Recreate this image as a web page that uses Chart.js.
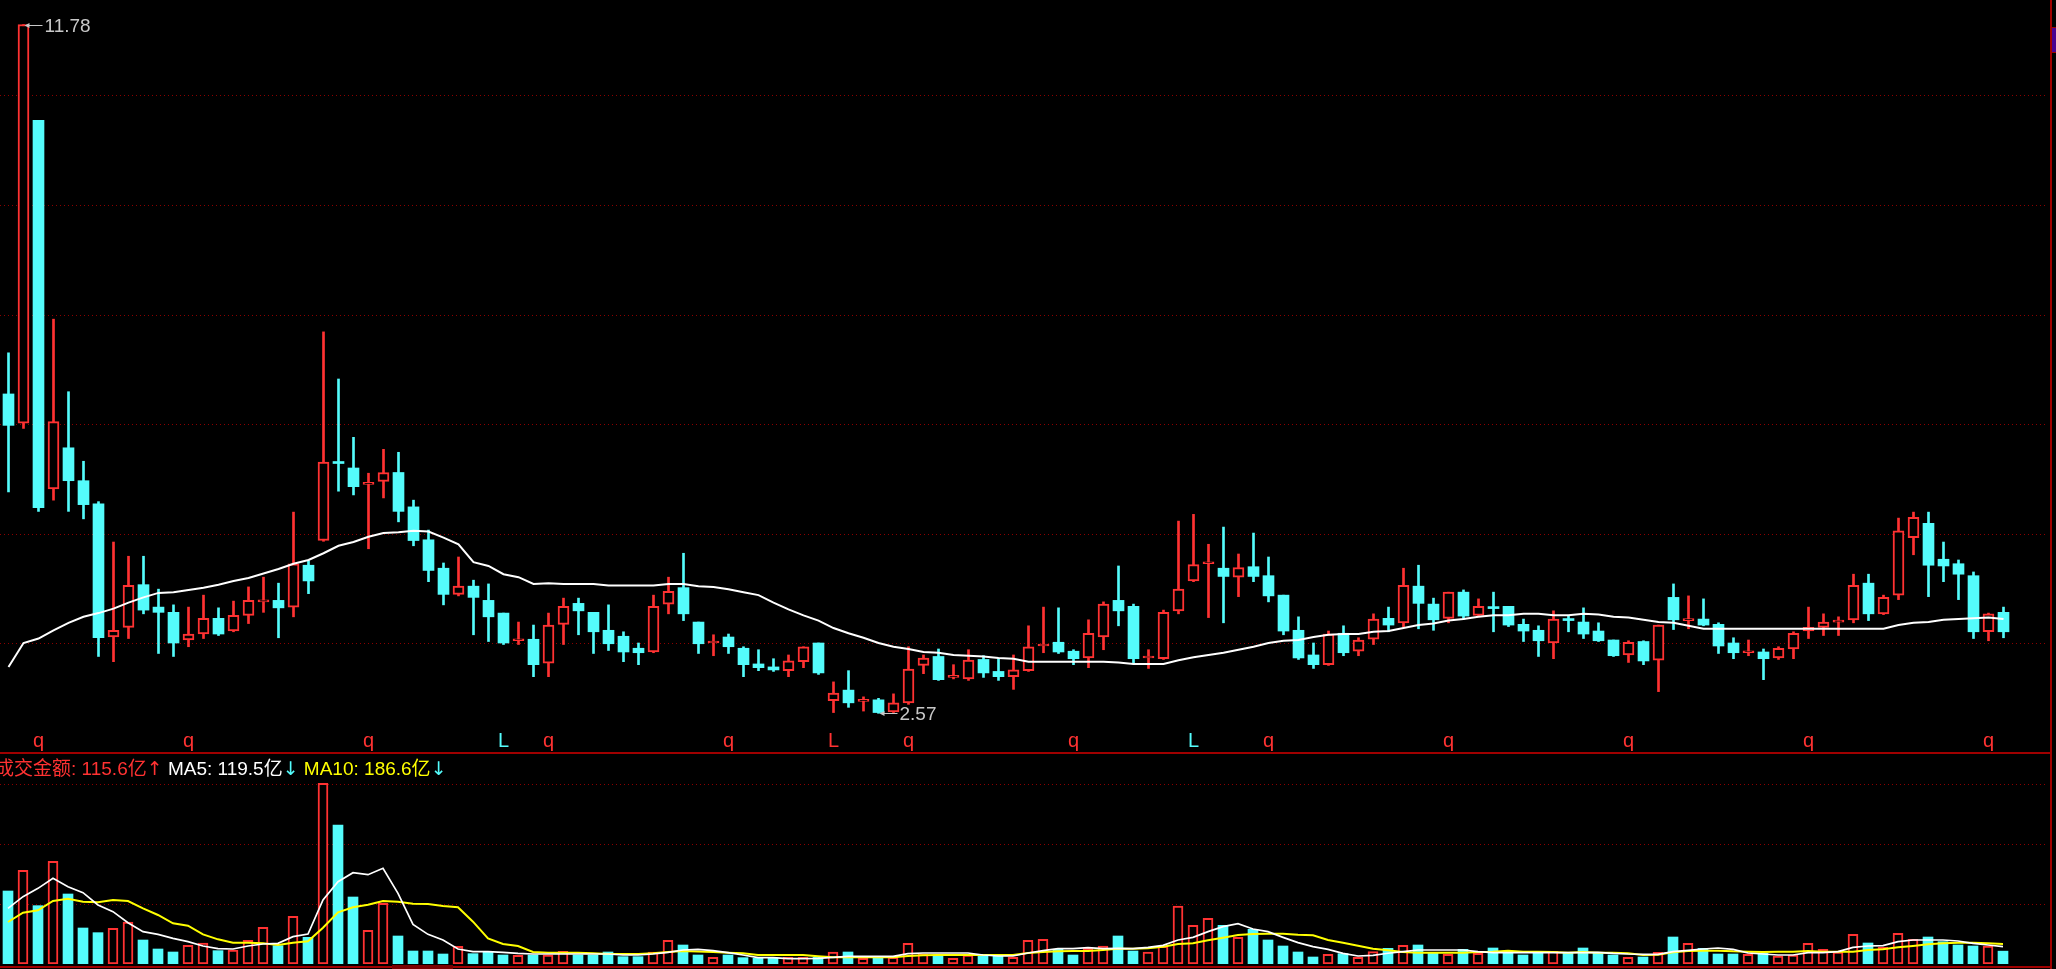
<!DOCTYPE html>
<html><head><meta charset="utf-8">
<script src="https://cdn.jsdelivr.net/npm/chart.js@4.4.1/dist/chart.umd.min.js"></script>
<style>
html,body{margin:0;padding:0;background:#000;overflow:hidden;width:2056px;height:969px;}
#wrap{position:relative;width:2056px;height:969px;background:#000;overflow:hidden;}
canvas{position:absolute;left:0;display:block;}
.deco{position:absolute;}
#vlabel{position:absolute;left:-5px;top:758px;height:20px;line-height:20px;font-size:19px;font-family:"Liberation Sans","Noto Sans CJK SC",sans-serif;white-space:nowrap;}
#vlabel .ar{font-family:"DejaVu Sans","Noto Sans CJK SC",sans-serif;}
</style></head>
<body><div id="wrap">
<canvas id="price" width="2056" height="753" style="top:0;width:2056px;height:753px"></canvas>
<canvas id="vol" width="2056" height="216" style="top:753px;width:2056px;height:216px"></canvas>
<div class="deco" style="left:0;top:752px;width:2052px;height:2px;background:#a00000"></div>
<div class="deco" style="left:2050px;top:0;width:2px;height:969px;background:#a00000"></div>
<div class="deco" style="left:2052px;top:27px;width:4px;height:24px;background:#4a0090;border-top:1px solid #a00000;border-bottom:1px solid #a00000"></div>
<div class="deco" style="left:0;top:966px;width:2052px;height:2px;background:#a00000"></div>
<div class="deco" style="left:392px;top:965px;width:61px;height:4px;background:#7a0000"></div>
<div id="vlabel"></div>
</div>
<script>
// ---- data ----
const opens = [6.84,6.45,10.50,5.57,6.12,5.68,5.37,3.59,3.72,4.29, 3.99,3.92,3.55,3.63,3.84,3.67,3.88,4.06,4.08,3.99, 4.55,4.88,5.92,5.85,5.63,5.67,5.79,5.33,4.89,4.51, 4.16,4.27,4.08,3.91,3.54,3.56,3.24,3.76,4.04,3.92, 3.68,3.60,3.44,3.39,4.03,4.25,3.79,3.51,3.59,3.44, 3.23,3.19,3.14,3.26,3.51,2.74,2.88,2.73,2.75,2.59, 2.71,3.21,3.33,3.05,3.03,3.29,3.13,3.06,3.14,3.47, 3.52,3.40,3.31,3.59,4.08,4.00,3.31,3.30,3.94,4.34, 4.57,4.51,4.39,4.53,4.41,4.15,3.68,3.35,3.22,3.64, 3.40,3.56,3.84,3.78,4.27,4.03,3.84,4.19,3.88,3.98, 4.00,3.76,3.68,3.51,3.82,3.79,3.67,3.55,3.35,3.53, 3.28,4.12,3.81,3.83,3.76,3.51,3.38,3.39,3.31,3.43, 3.67,3.72,3.79,3.82,4.31,3.90,4.15,4.92,5.11,4.63, 4.57,4.41,3.66,3.92];
const highs = [7.39,11.78,10.50,7.84,6.87,5.94,5.40,4.86,4.67,4.67, 4.23,4.02,3.99,4.15,3.98,4.07,4.26,4.39,4.31,5.26, 4.61,7.67,7.04,6.26,5.78,6.10,6.06,5.42,5.02,4.58, 4.66,4.35,4.30,3.91,3.79,3.75,3.91,4.11,4.11,3.92, 4.02,3.66,3.51,4.15,4.39,4.71,3.79,3.62,3.63,3.46, 3.42,3.30,3.35,3.46,3.51,2.99,3.14,2.79,2.77,2.83, 3.46,3.35,3.43,3.22,3.42,3.34,3.30,3.35,3.74,3.99, 3.98,3.42,3.82,4.06,4.54,4.03,3.42,3.95,5.14,5.23, 4.83,5.06,4.70,4.98,4.66,4.15,3.86,3.51,3.67,3.74, 3.58,3.90,3.99,4.51,4.55,4.11,4.19,4.22,4.10,4.19, 4.00,3.83,3.74,3.94,3.87,3.98,3.78,3.55,3.54,3.54, 3.75,4.30,4.14,4.10,3.78,3.58,3.55,3.43,3.46,3.66, 3.99,3.90,3.86,4.43,4.43,4.15,5.18,5.26,5.26,4.86, 4.62,4.46,3.91,3.99];
const lows = [5.53,6.38,5.27,5.42,5.27,5.17,3.33,3.26,3.57,3.90, 3.37,3.33,3.46,3.57,3.61,3.66,3.77,3.92,3.58,3.86, 4.17,4.87,5.54,5.49,4.77,5.45,5.13,4.81,4.33,4.02, 4.14,3.62,3.53,3.49,3.49,3.06,3.06,3.49,3.62,3.37, 3.41,3.26,3.22,3.38,3.90,3.81,3.37,3.34,3.37,3.06, 3.14,3.13,3.06,3.18,3.09,2.58,2.65,2.60,2.57,2.58, 2.69,3.10,3.01,3.03,3.01,3.05,3.01,2.89,3.13,3.38, 3.37,3.22,3.18,3.42,3.74,3.23,3.17,3.29,3.90,4.33, 3.85,3.78,4.13,4.33,4.06,3.62,3.29,3.17,3.21,3.34, 3.34,3.49,3.66,3.72,3.70,3.68,3.78,3.83,3.86,3.66, 3.73,3.53,3.33,3.30,3.66,3.57,3.53,3.33,3.25,3.22, 2.86,3.69,3.70,3.74,3.37,3.30,3.34,3.02,3.29,3.30, 3.57,3.61,3.61,3.78,3.81,3.89,4.09,4.69,4.13,4.33, 4.09,3.57,3.54,3.58];
const closes = [6.42,11.78,5.32,6.47,5.68,5.36,3.58,3.68,4.28,3.95, 3.92,3.51,3.63,3.84,3.63,3.88,4.08,4.08,3.98,4.57, 4.34,5.93,5.91,5.60,5.64,5.79,5.27,4.88,4.48,4.16, 4.27,4.12,3.86,3.51,3.55,3.22,3.75,4.00,3.94,3.66, 3.50,3.39,3.38,4.00,4.20,3.90,3.50,3.52,3.46,3.22, 3.18,3.15,3.27,3.46,3.11,2.84,2.71,2.74,2.58,2.71, 3.16,3.31,3.02,3.06,3.28,3.11,3.06,3.15,3.46,3.48, 3.39,3.30,3.64,4.03,3.94,3.30,3.32,3.92,4.23,4.56, 4.58,4.40,4.52,4.40,4.14,3.67,3.31,3.22,3.63,3.38, 3.55,3.83,3.75,4.28,4.04,3.82,4.19,3.87,4.00,3.97, 3.75,3.67,3.54,3.83,3.81,3.63,3.54,3.34,3.52,3.27, 3.75,3.82,3.82,3.75,3.47,3.38,3.39,3.30,3.44,3.64, 3.72,3.79,3.80,4.28,3.90,4.12,5.01,5.19,4.55,4.54, 4.43,3.66,3.90,3.66];
const priceMA = [3.19,3.51,3.57,3.68,3.78,3.86,3.91,3.97,4.05,4.12, 4.18,4.19,4.22,4.25,4.29,4.34,4.38,4.44,4.50,4.57, 4.62,4.71,4.81,4.86,4.93,4.98,4.99,5.01,5.00,4.92, 4.83,4.59,4.54,4.43,4.39,4.30,4.31,4.30,4.30,4.30, 4.28,4.28,4.28,4.28,4.30,4.30,4.27,4.26,4.23,4.19, 4.15,4.05,3.96,3.88,3.81,3.71,3.64,3.58,3.51,3.46, 3.43,3.39,3.38,3.35,3.34,3.33,3.31,3.30,3.26,3.26, 3.26,3.26,3.26,3.26,3.25,3.23,3.23,3.23,3.28,3.32, 3.35,3.38,3.42,3.46,3.51,3.54,3.55,3.59,3.62,3.63, 3.63,3.66,3.67,3.71,3.75,3.77,3.81,3.83,3.86,3.88, 3.88,3.90,3.90,3.88,3.88,3.90,3.89,3.86,3.85,3.82, 3.79,3.78,3.74,3.70,3.70,3.70,3.70,3.70,3.70,3.70, 3.70,3.70,3.70,3.70,3.70,3.70,3.75,3.78,3.79,3.82, 3.83,3.84,3.85,3.83];
// turnover, 亿
const turnover = [657,843,525,924,630,324,282,321,378,216, 135,108,168,189,120,126,213,330,165,429, 240,1626,1251,603,303,546,252,117,117,90, 159,93,108,81,78,81,81,114,81,81, 108,66,66,108,213,171,81,60,81,57, 51,51,60,60,60,108,108,51,60,60, 186,90,81,51,81,81,81,60,213,222, 132,81,141,162,252,117,108,159,522,348, 411,348,240,312,216,162,108,63,87,93, 60,111,141,168,171,96,87,132,96,144, 108,81,96,114,96,144,96,81,60,63, 105,243,186,141,90,90,87,96,72,81, 186,132,108,267,189,150,276,222,243,201, 171,162,162,115.6];
const turnoverMA5 = [501,606,681,771,696,642,531,471,372,291, 267,231,201,162,138,135,162,180,186,246, 270,576,741,822,804,861,636,357,267,216, 135,111,111,105,96,90,90,90,90,90, 90,81,81,90,105,126,132,120,102,81, 57,57,48,48,51,60,69,69,69,69, 93,99,99,99,99,81,72,72,99,120, 138,138,147,138,141,138,150,168,216,240, 291,336,363,315,291,240,192,156,132,96, 72,78,97,111,126,126,126,126,111,102, 102,102,102,102,102,102,105,96,90,87, 87,111,123,135,144,132,99,90,81,81, 102,102,111,150,162,165,201,216,216,216, 207,186,171,156];
const turnoverMA10 = [378,462,483,567,588,561,555,576,567,501, 441,366,345,267,222,192,192,186,171,192, 204,327,465,510,534,567,561,543,540,522, 510,381,231,180,162,108,102,102,102,96, 90,90,90,96,108,117,112,108,102,96, 81,81,81,81,69,60,60,60,60,60, 72,78,81,81,81,81,81,81,99,108, 114,117,117,126,138,138,141,156,180,186, 213,237,261,270,273,273,264,258,216,192, 165,137,123,108,102,102,102,102,108,111, 120,111,111,108,102,108,102,102,96,81, 84,105,117,120,120,114,111,108,111,111, 117,111,111,111,126,132,150,162,177,186, 192,192,186,180];
const priceGrid = [3.51,4.97,6.44,7.90,9.37,10.84];
const volumeGrid = [540,1080,1620];
const markerIdx  = [2,12,24,33,36,48,55,60,71,79,84,96,108,120,132];
const markerText = ['q','q','q','L','q','q','L','q','q','L','q','q','q','q','q'];
const markerUp   = [true,true,true,false,true,true,true,true,true,false,true,true,true,true,true];
const lastTurnover = 115.6, lastMA5 = 119.5, lastMA10 = 186.6;

// ---- styles ----
const RED = '#ff3232', CYAN = '#54fcfc', GRID = '#8c0000', TAG = '#c8c8c8';
const isUp = opens.map((o, i) => closes[i] >= o);

function gridPlugin(id, levels) {
  return {
    id,
    beforeDatasetsDraw(chart) {
      const {ctx, chartArea: a, scales: {y}} = chart;
      ctx.save();
      ctx.strokeStyle = GRID; ctx.lineWidth = 1; ctx.setLineDash([1, 3]);
      levels.forEach(v => {
        const py = Math.round(y.getPixelForValue(v)) + 0.5;
        ctx.beginPath(); ctx.moveTo(a.left, py); ctx.lineTo(a.right - 2, py); ctx.stroke();
      });
      ctx.restore();
    }
  };
}

const priceDecor = {
  id: 'priceDecor',
  afterDatasetsDraw(chart) {
    const {ctx, chartArea: a, scales: {x, y}} = chart;
    ctx.save();
    ctx.font = '20px "Liberation Sans", Arial, sans-serif';
    ctx.textAlign = 'center'; ctx.textBaseline = 'alphabetic';
    markerIdx.forEach((k, j) => {
      ctx.fillStyle = markerUp[j] ? RED : CYAN;
      ctx.fillText(markerText[j], x.getPixelForValue(k), a.bottom - 6);
    });
    let hi = 0, lo = 0;
    highs.forEach((v, i) => { if (v > highs[hi]) hi = i; });
    lows.forEach((v, i) => { if (v < lows[lo]) lo = i; });
    const tag = (i, v) => {
      const px = x.getPixelForValue(i), py = Math.round(y.getPixelForValue(v)) + 0.5;
      ctx.strokeStyle = TAG; ctx.fillStyle = TAG; ctx.lineWidth = 1;
      ctx.beginPath(); ctx.moveTo(px + 3, py); ctx.lineTo(px + 19, py); ctx.stroke();
      ctx.beginPath(); ctx.moveTo(px + 1, py); ctx.lineTo(px + 6, py - 2.5); ctx.lineTo(px + 6, py + 2.5); ctx.closePath(); ctx.fill();
      ctx.font = '19px "Liberation Sans", Arial, sans-serif';
      ctx.textAlign = 'left'; ctx.textBaseline = 'middle';
      ctx.fillText(v.toFixed(2), px + 21, py + 1);
    };
    tag(hi, highs[hi]);
    tag(lo, lows[lo]);
    ctx.restore();
  }
};

const common = {
  responsive: false, animation: false, devicePixelRatio: 1,
  plugins: {legend: {display: false}, tooltip: {enabled: false}}
};

new Chart(document.getElementById('price'), {
  type: 'bar',
  data: {datasets: [
    {type: 'bar', data: lows.map((l, i) => ({x: i, y: [l, highs[i]]})),
     backgroundColor: isUp.map(u => u ? RED : CYAN), borderWidth: 0,
     barThickness: 2, grouped: false, order: 2},
    {type: 'bar', data: opens.map((o, i) => ({x: i, y: [o, closes[i]]})),
     backgroundColor: isUp.map(u => u ? '#000000' : CYAN),
     borderColor: isUp.map(u => u ? RED : CYAN),
     borderWidth: isUp.map(u => u ? 2 : 0), borderSkipped: false,
     barThickness: 11, minBarLength: 2, grouped: false, order: 1},
    {type: 'line', data: priceMA.map((v, i) => ({x: i, y: v})),
     borderColor: '#ffffff', borderWidth: 2, pointRadius: 0, tension: 0, order: 0}
  ]},
  options: Object.assign({}, common, {
    layout: {padding: {left: 0, right: 6, top: 0, bottom: 0}},
    scales: {
      x: {type: 'linear', display: false, offset: false, min: -0.566667, max: 136.1},
      y: {type: 'linear', display: false, min: 2.0392, max: 12.1076}
    }
  }),
  plugins: [gridPlugin('priceGrid', priceGrid), priceDecor]
});

new Chart(document.getElementById('vol'), {
  type: 'bar',
  data: {datasets: [
    {type: 'bar', data: turnover.map((v, i) => ({x: i, y: v})),
     backgroundColor: isUp.map(u => u ? '#000000' : CYAN),
     borderColor: isUp.map(u => u ? RED : CYAN),
     borderWidth: isUp.map(u => u ? 2 : 0), borderSkipped: false,
     barThickness: 10, grouped: false, order: 2},
    {type: 'line', data: turnoverMA10.map((v, i) => ({x: i, y: v})),
     borderColor: '#ffff00', borderWidth: 2, pointRadius: 0, tension: 0, order: 1},
    {type: 'line', data: turnoverMA5.map((v, i) => ({x: i, y: v})),
     borderColor: '#ffffff', borderWidth: 1.7, pointRadius: 0, tension: 0, order: 0}
  ]},
  options: Object.assign({}, common, {
    layout: {padding: {left: 0, right: 6, top: 0, bottom: 5}},
    scales: {
      x: {type: 'linear', display: false, offset: false, min: -0.533333, max: 136.133333},
      y: {type: 'linear', display: false, min: 0, max: 1899}
    }
  }),
  plugins: [gridPlugin('volGrid', volumeGrid)]
});

// label of the turnover pane
const lab = document.getElementById('vlabel');
const parts = [
  ['成交金额: ' + lastTurnover.toFixed(1) + '亿', RED, ''], ['↑', RED, 'ar'],
  [' MA5: ' + lastMA5.toFixed(1) + '亿', '#ffffff', ''], ['↓', CYAN, 'ar'],
  [' MA10: ' + lastMA10.toFixed(1) + '亿', '#ffff00', ''], ['↓', CYAN, 'ar']
];
parts.forEach(([t, c, cls]) => {
  const s = document.createElement('span');
  s.textContent = t; s.style.color = c; s.style.whiteSpace = 'pre';
  if (cls) s.className = cls;
  lab.appendChild(s);
});
</script>
</body></html>
